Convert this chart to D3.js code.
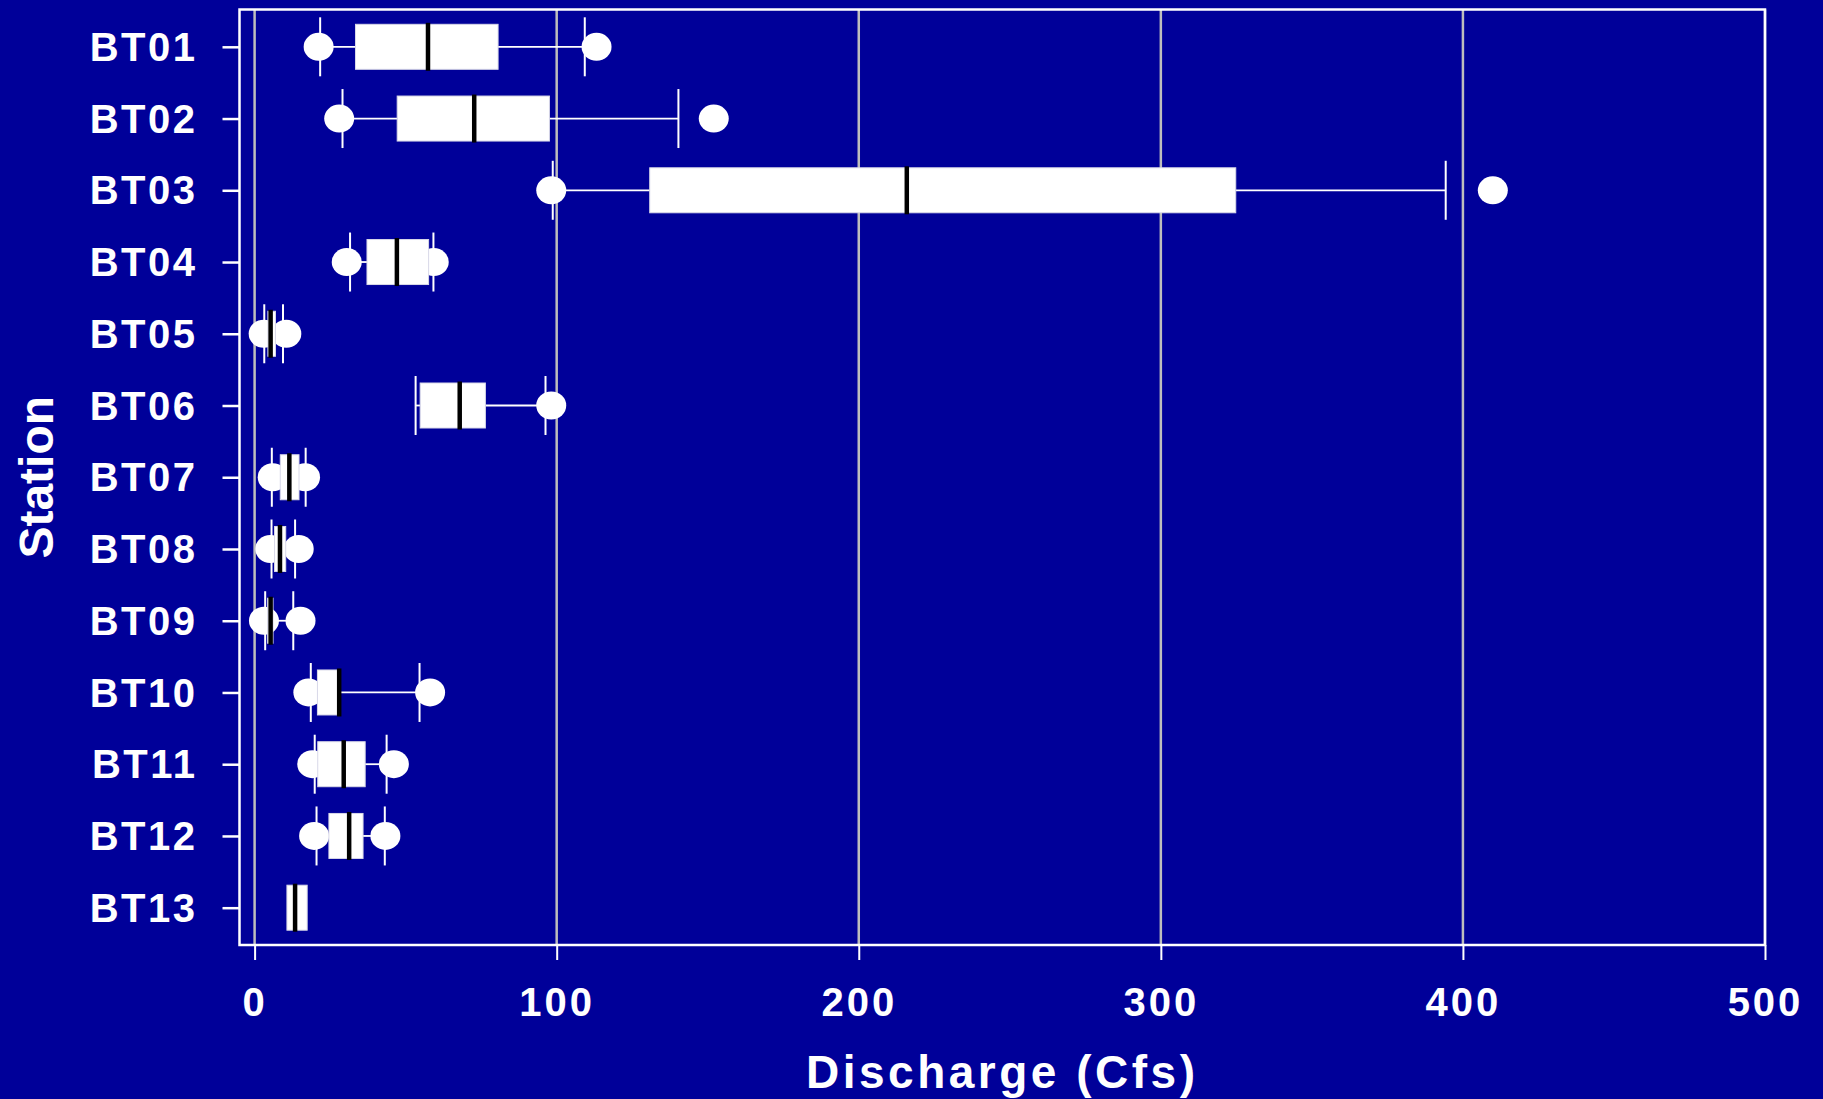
<!DOCTYPE html>
<html>
<head>
<meta charset="utf-8">
<script src="https://cdn.jsdelivr.net/npm/d3@7/dist/d3.min.js"></script>
<style>
  html, body { margin: 0; padding: 0; background: #000099; }
  svg { display: block; }
  text { font-family: "Liberation Sans", Arial, sans-serif; font-weight: bold; fill: #fff; }
</style>
</head>
<body>
<div id="chart"></div>
<script>
// station boxplots of discharge
const stations = ['BT01', 'BT02', 'BT03', 'BT04', 'BT05', 'BT06', 'BT07', 'BT08', 'BT09', 'BT10', 'BT11', 'BT12', 'BT13'];
const lowDot  = [21.2, 28.0, 98.2, 30.5, 3.0, null, 6.0, 5.2, 3.1, 17.8, 19.1, 19.7, null];
const lowCap  = [21.7, 29.1, 98.7, 31.6, 3.2, 53.3, 5.7, 5.6, 3.5, 18.6, 19.9, 20.5, null];
const q1      = [33.4, 47.2, 130.8, 37.2, 4.4, 54.8, 8.5, 6.6, 4.3, 20.8, 20.9, 24.6, 10.7];
const median  = [57.4, 72.7, 215.9, 47.1, 5.3, 67.9, 11.5, 8.4, 5.3, 28.0, 29.5, 31.3, 13.4];
const q3      = [80.6, 97.6, 324.8, 57.6, 6.9, 76.4, 14.7, 10.3, 6.1, 27.6, 36.6, 35.9, 17.4];
const highCap = [109.3, 140.3, 394.3, 59.2, 9.4, 96.3, 16.9, 13.4, 12.8, 54.6, 43.7, 43.1, null];
const highDot = [113.2, 152.0, 409.9, 59.3, 10.5, 98.2, 16.7, 14.6, 15.2, 58.1, 46.1, 43.3, null];
const xTicks = [0, 100, 200, 300, 400, 500];

const W = 1823, H = 1099;
const plotL = 239.5, plotR = 1765, plotT = 9.5, plotB = 945;

const rows = stations.map((s, i) => ({
  s, lowDot: lowDot[i], lowCap: lowCap[i], q1: q1[i], med: median[i],
  q3: q3[i], highCap: highCap[i], highDot: highDot[i]
}));

const svg = d3.select('#chart').append('svg')
  .attr('width', W)
  .attr('height', H);

svg.append('rect').attr('width', W).attr('height', H).attr('fill', '#000099');

const x = d3.scaleLinear().domain([-5, 500]).range([plotL, plotR]);
const y = d3.scalePoint().domain(stations).range([plotT, plotB]).padding(0.52);

// grid
svg.append('g').selectAll('line')
  .data(xTicks)
  .join('line')
  .attr('x1', d => x(d)).attr('x2', d => x(d))
  .attr('y1', plotT).attr('y2', plotB)
  .attr('stroke', '#bdbdbd')
  .attr('stroke-width', 2.5);

// x axis
const xAxis = svg.append('g')
  .attr('transform', `translate(0,${plotB})`)
  .call(d3.axisBottom(x).tickValues(xTicks).tickSize(15).tickPadding(28).tickFormat(d3.format('d')));
xAxis.select('.domain').remove();
xAxis.selectAll('line').attr('stroke', '#fff').attr('stroke-width', 2);
xAxis.selectAll('text')
  .attr('fill', '#fff')
  .style('font-size', '40px')
  .style('letter-spacing', '3px');

// y axis
const yAxis = svg.append('g')
  .attr('transform', `translate(${plotL},0)`)
  .call(d3.axisLeft(y).tickSize(17).tickPadding(25));
yAxis.select('.domain').remove();
yAxis.selectAll('line').attr('stroke', '#fff').attr('stroke-width', 2.5);
yAxis.selectAll('text')
  .attr('fill', '#fff')
  .attr('dy', '0.34em')
  .style('font-size', '40px')
  .style('letter-spacing', '2.5px');

// frame
svg.append('rect')
  .attr('x', plotL).attr('y', plotT)
  .attr('width', plotR - plotL).attr('height', plotB - plotT)
  .attr('fill', 'none')
  .attr('stroke', '#fff')
  .attr('stroke-width', 2.5);

const g = svg.append('g');

// whiskers
rows.filter(d => d.lowCap != null).forEach(d => {
  const cy = y(d.s);
  g.append('line')
    .attr('x1', x(d.lowCap)).attr('x2', x(d.q1))
    .attr('y1', cy).attr('y2', cy)
    .attr('stroke', '#fff').attr('stroke-width', 1.8);
  g.append('line')
    .attr('x1', x(d.q3)).attr('x2', x(d.highCap))
    .attr('y1', cy).attr('y2', cy)
    .attr('stroke', '#fff').attr('stroke-width', 1.8);
  [d.lowCap, d.highCap].forEach(v => {
    g.append('line')
      .attr('x1', x(v)).attr('x2', x(v))
      .attr('y1', cy - 29.5).attr('y2', cy + 29.5)
      .attr('stroke', '#fff').attr('stroke-width', 2);
  });
});

// dots
const dots = [];
rows.forEach(d => {
  if (d.lowDot != null) dots.push({ s: d.s, v: d.lowDot });
  if (d.highDot != null) dots.push({ s: d.s, v: d.highDot });
});
g.selectAll('ellipse')
  .data(dots)
  .join('ellipse')
  .attr('cx', d => x(d.v))
  .attr('cy', d => y(d.s))
  .attr('rx', 15)
  .attr('ry', 14)
  .attr('fill', '#fff');

// boxes
g.selectAll('rect.box')
  .data(rows)
  .join('rect')
  .attr('class', 'box')
  .attr('x', d => x(d.q1))
  .attr('y', d => y(d.s) - 22.5)
  .attr('width', d => x(d.q3) - x(d.q1))
  .attr('height', 45)
  .attr('fill', '#fff')
  .attr('stroke', '#d8d8e8')
  .attr('stroke-width', 1);

// medians
g.selectAll('line.med')
  .data(rows)
  .join('line')
  .attr('class', 'med')
  .attr('x1', d => x(d.med)).attr('x2', d => x(d.med))
  .attr('y1', d => y(d.s) - 24).attr('y2', d => y(d.s) + 24)
  .attr('stroke', '#000')
  .attr('stroke-width', 4.5);

// axis titles
svg.append('text')
  .attr('x', (plotL + plotR) / 2)
  .attr('y', 1088)
  .attr('text-anchor', 'middle')
  .style('font-size', '46px')
  .style('letter-spacing', '3.5px')
  .text('Discharge (Cfs)');

svg.append('text')
  .attr('transform', `translate(53,${(plotT + plotB) / 2}) rotate(-90)`)
  .attr('text-anchor', 'middle')
  .style('font-size', '48px')
  .text('Station');
</script>
</body>
</html>
